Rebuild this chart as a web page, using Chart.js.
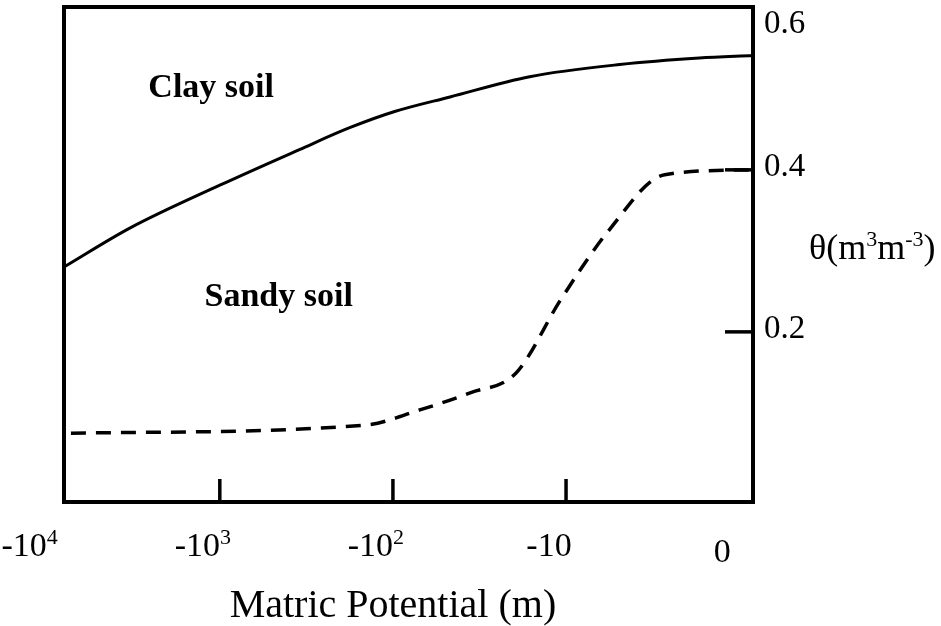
<!DOCTYPE html>
<html>
<head>
<meta charset="utf-8">
<title>Water retention curves</title>
<script src="https://cdn.jsdelivr.net/npm/chart.js@4"></script>
<style>
  html, body { margin: 0; padding: 0; background: #fff; }
  #wrap { width: 941px; height: 626px; }
</style>
</head>
<body>
<div id="wrap"><canvas id="grafica"></canvas></div>
<script>
// x is log10 of the (negative) matric potential, so -4 means -10^4 m
const clayPot = [-3.9, -3.52, -3, -2.54, -2.25, -1.99, -1.67, -1.21, -0.69, -0.23, 0.08];
const clayTheta = [0.28, 0.328, 0.381, 0.425, 0.452, 0.472, 0.49, 0.515, 0.53, 0.538, 0.541];
const sandyPot = [-3.86, -2.16, -1.84, -1.55, -1.29, -1.03, -0.75, -0.43, 0.08];
const sandyTheta = [0.075, 0.085, 0.104, 0.125, 0.149, 0.24, 0.326, 0.394, 0.4];

const potTicks = [-4, -3, -2, -1, 0];
const potBase = ['-10', '-10', '-10', '-10', '0'];
const potExp = ['4', '3', '2', '', ''];
const thetaTicks = [0.2, 0.4, 0.6];

const soilNames = ['Clay soil', 'Sandy soil'];
const soilNameX = [-3.05, -2.66];
const soilNameY = [0.501, 0.243];

const SERIF = '"Liberation Serif", "Times New Roman", serif';

function toPoints(xs, ys) {
  return xs.map((x, i) => ({ x: x, y: ys[i] }));
}

// text with a raised exponent, centred on cx
function supText(ctx, base, exp, cx, y, size) {
  const small = Math.round(size * 0.64);
  ctx.font = size + 'px ' + SERIF;
  const wb = ctx.measureText(base).width;
  ctx.font = small + 'px ' + SERIF;
  const we = exp ? ctx.measureText(exp).width : 0;
  const x = cx - (wb + we) / 2;
  ctx.textAlign = 'left';
  ctx.font = size + 'px ' + SERIF;
  ctx.fillText(base, x, y);
  if (exp) {
    ctx.font = small + 'px ' + SERIF;
    ctx.fillText(exp, x + wb, y - size * 0.36);
  }
}

const marcoYEtiquetas = {
  id: 'marcoYEtiquetas',
  afterDraw(chart) {
    const ctx = chart.ctx;
    const a = chart.chartArea;
    const xs = chart.scales.x;
    const ys = chart.scales.y;

    ctx.save();
    ctx.strokeStyle = '#000';
    ctx.fillStyle = '#000';
    ctx.lineWidth = 4;
    ctx.strokeRect(a.left, a.top, a.right - a.left, a.bottom - a.top);

    // inward ticks on the bottom axis, inner decades only
    ctx.lineWidth = 3.5;
    potTicks.forEach((v) => {
      if (v <= -4 || v >= 0) return;
      const px = xs.getPixelForValue(v);
      ctx.beginPath();
      ctx.moveTo(px, a.bottom);
      ctx.lineTo(px, a.bottom - 23);
      ctx.stroke();
    });

    // inward ticks on the right axis
    thetaTicks.forEach((v) => {
      const py = ys.getPixelForValue(v);
      if (py > a.top + 5) {
        ctx.beginPath();
        ctx.moveTo(a.right, py);
        ctx.lineTo(a.right - 28, py);
        ctx.stroke();
      }
    });

    // bottom tick labels
    ctx.textBaseline = 'alphabetic';
    potTicks.forEach((v, i) => {
      const px = xs.getPixelForValue(v) - 17;
      const base = potBase[i] === '0' ? 562 : 556;
      supText(ctx, potBase[i], potExp[i], px, base, 34);
    });

    // right tick labels
    ctx.font = '33px ' + SERIF;
    ctx.textAlign = 'left';
    ctx.textBaseline = 'middle';
    thetaTicks.forEach((v) => {
      const py = Math.max(ys.getPixelForValue(v) - 3, a.top + 17);
      ctx.fillText(v.toFixed(1), a.right + 11, py);
    });

    // right axis title: θ(m3 m-3)
    ctx.textBaseline = 'alphabetic';
    let tx = a.right + 56;
    const ty = 259;
    const parts = [['θ(m', false], ['3', true], ['m', false], ['-3', true], [')', false]];
    parts.forEach(([t, sup]) => {
      ctx.font = (sup ? 22 : 36) + 'px ' + SERIF;
      ctx.fillText(t, tx, sup ? ty - 13 : ty);
      tx += ctx.measureText(t).width;
    });

    // bottom axis title
    ctx.font = '40px ' + SERIF;
    ctx.textAlign = 'center';
    ctx.fillText('Matric Potential (m)', xs.getPixelForValue(-2), 617);

    // curve names
    ctx.font = 'bold 34px ' + SERIF;
    ctx.textBaseline = 'middle';
    soilNames.forEach((name, i) => {
      ctx.fillText(name, xs.getPixelForValue(soilNameX[i]), ys.getPixelForValue(soilNameY[i]));
    });
    ctx.restore();
  }
};

new Chart(document.getElementById('grafica'), {
  type: 'line',
  data: {
    datasets: [
      {
        label: 'Clay soil',
        data: toPoints(clayPot, clayTheta),
        borderColor: '#000',
        borderWidth: 3,
        pointRadius: 0,
        cubicInterpolationMode: 'monotone'
      },
      {
        label: 'Sandy soil',
        data: toPoints(sandyPot, sandyTheta),
        borderColor: '#000',
        borderWidth: 3.5,
        borderDash: [15, 10],
        pointRadius: 0,
        cubicInterpolationMode: 'monotone'
      }
    ]
  },
  options: {
    responsive: true,
    maintainAspectRatio: false,
    animation: false,
    layout: { padding: { left: 64, top: 7, right: 188, bottom: 124 } },
    plugins: {
      legend: { display: false },
      tooltip: { enabled: false }
    },
    scales: {
      x: { type: 'linear', min: -3.9, max: 0.08, display: false },
      y: { min: -0.01, max: 0.601, display: false }
    }
  },
  plugins: [marcoYEtiquetas]
});
</script>
</body>
</html>
